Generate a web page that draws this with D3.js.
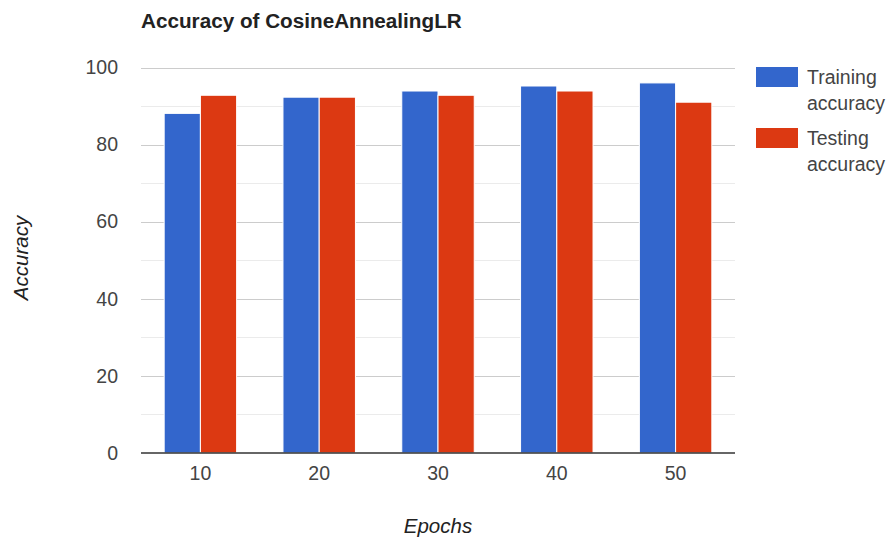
<!DOCTYPE html>
<html><head><meta charset="utf-8">
<script src="https://cdn.jsdelivr.net/npm/d3@7"></script>
<style>body{margin:0;background:#fff}</style>
</head><body>
<svg id="c" width="891" height="540"></svg>
<script>
const categories = ["10","20","30","40","50"];
const trainAcc = [88.1, 92.3, 93.9, 95.2, 96.0];
const testAcc = [92.8, 92.3, 92.8, 93.9, 91.0];
const seriesNames = ["Training accuracy","Testing accuracy"];
const yTicks = [0,20,40,60,80,100];
const yMinor = [10,30,50,70,90];

const colors = ["#3366cc","#dc3912"];
const svg = d3.select("#c");
const L = 141, R = 735, T = 67.5, B = 453;
const font = "Arial, 'Liberation Sans', sans-serif";

const x = d3.scaleBand().domain(categories).range([L,R]).paddingInner(0.39).paddingOuter(0.195);
const xs = d3.scaleBand().domain([0,1]).range([0,x.bandwidth()]);
const y = d3.scaleLinear().domain([0,100]).range([B,T]);

// minor grid
svg.append("g").selectAll("line").data(yMinor).join("line")
  .attr("x1",L).attr("x2",R).attr("y1",d=>Math.round(y(d))+0.5).attr("y2",d=>Math.round(y(d))+0.5)
  .attr("stroke","#ebebeb");
svg.append("g").selectAll("line").data(yTicks.filter(d=>d>0)).join("line")
  .attr("x1",L).attr("x2",R).attr("y1",d=>Math.round(y(d))+0.5).attr("y2",d=>Math.round(y(d))+0.5)
  .attr("stroke","#cccccc");

// y axis labels
const yAxis = d3.axisLeft(y).tickValues(yTicks).tickSize(0).tickPadding(23);
const gy = svg.append("g").attr("transform",`translate(${L},0)`).call(yAxis);
gy.select(".domain").remove();
gy.selectAll("text").attr("font-family",font).attr("font-size",19.5).attr("fill","#444");

// bars
const data = categories.map((c,i)=>({c, v:[trainAcc[i], testAcc[i]]}));
const g = svg.append("g");
data.forEach(d=>{
  d.v.forEach((v,k)=>{
    g.append("rect")
      .attr("x", x(d.c)+xs(k)).attr("width", xs.bandwidth())
      .attr("y", y(v)).attr("height", y(0)-y(v))
      .attr("fill", colors[k]).attr("stroke","#fff").attr("stroke-width",1);
  });
});

// baseline
svg.append("line").attr("x1",L).attr("x2",R).attr("y1",y(0)).attr("y2",y(0))
  .attr("stroke","#333").attr("stroke-width",1.5);

// x axis labels
const xAxis = d3.axisBottom(x).tickSize(0).tickPadding(13);
const gx = svg.append("g").attr("transform",`translate(0,${B})`).call(xAxis);
gx.select(".domain").remove();
gx.selectAll("text").attr("font-family",font).attr("font-size",19.5).attr("fill","#444");

// title
svg.append("text").attr("x",141).attr("y",28).text("Accuracy of CosineAnnealingLR")
  .attr("font-family",font).attr("font-weight","bold")
  .attr("font-size",20.7).attr("fill","#222");

// axis titles
svg.append("text").attr("x",438).attr("y",533).attr("text-anchor","middle")
  .attr("font-family",font).attr("font-style","italic").attr("font-size",20.5).attr("fill","#222").text("Epochs");
svg.append("text").attr("transform","translate(28,258) rotate(-90)").attr("text-anchor","middle")
  .attr("font-family",font).attr("font-style","italic").attr("font-size",20.5).attr("fill","#222").text("Accuracy");

// legend
const lg = svg.append("g");
seriesNames.forEach((s,i)=>{
  const oy = 67 + i*61;
  lg.append("rect").attr("x",756).attr("y",oy).attr("width",42).attr("height",20).attr("fill",colors[i]);
  const words = s.split(" ");
  words.forEach((w,j)=>{
    lg.append("text").attr("x",807).attr("y",oy+17+j*26).text(w)
      .attr("font-family",font).attr("font-size",19.5).attr("fill","#444");
  });
});
</script>
</body></html>
